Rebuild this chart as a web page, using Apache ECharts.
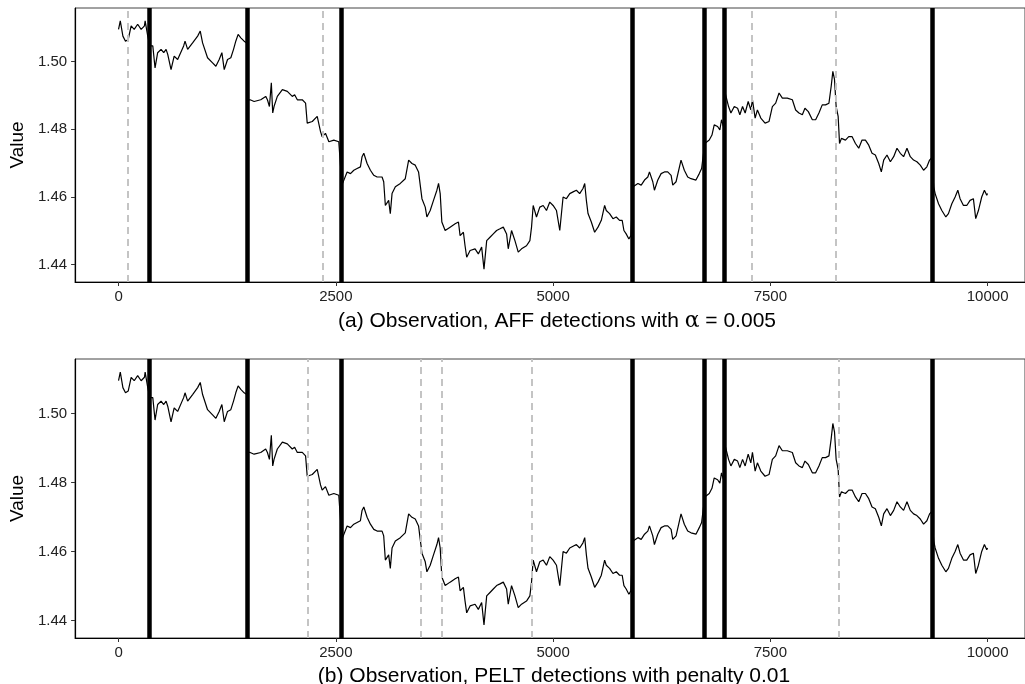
<!DOCTYPE html>
<html><head><meta charset="utf-8">
<script src="https://cdn.jsdelivr.net/npm/echarts@6/dist/echarts.min.js"></script>
<style>html,body{margin:0;padding:0;background:#fff}#c{width:1025px;height:684px}</style>
</head><body><div id="c"></div>
<script>
// Observation index (time) and value
const obsIndex = [0,20,50,80,111,145,180,220,260,298,306,336,
360,394,420,450,489,520,547,566,604,640,680,749,765,795,852,910,940,967,1024,1082,1120,1158,1189,1216,1254,1292,1323,1349,1376,1407,1445,1475,
1490,1514,1560,1636,1693,1713,1736,1758,1774,1789,1827,1885,1942,1999,2026,2057,2114,2152,2171,2229,2286,2305,2324,2343,2381,2420,2477,2534,2555,
2570,2592,2630,2669,2707,2745,2783,2802,2822,2860,2898,2937,2975,3032,3051,3070,3108,3127,3147,3185,3242,3299,3338,3376,3414,3452,3471,3491,3529,3548,3586,3624,3663,3682,3701,3720,3758,3815,3873,3911,3930,3968,3987,4006,4045,4102,4140,4178,4205,4236,4274,4312,4350,4389,4427,4465,4484,4522,4561,4599,4637,4694,4733,4752,4771,4809,4847,4886,4924,4962,5000,5039,5077,5115,5153,5192,5230,5268,5306,5344,5364,5383,5402,5440,5478,5517,5555,5593,5612,5650,5689,5727,5765,5795,5815,5841,5872,5895,
5920,5937,5976,6014,6052,6090,6109,6147,6166,6205,6243,6281,6319,6358,6377,6415,6472,6510,6549,6587,6644,6682,6709,6725,
6745,6767,6797,6828,6854,6893,6919,6938,6960,
6980,6996,7019,7046,7085,7123,7149,7180,7210,7245,7275,7294,7325,7351,7390,7439,7485,7523,7561,7600,7638,7695,7753,7791,7829,7868,7898,7937,7983,8021,8059,8097,8135,8174,8200,8219,8238,8257,8280,8296,8318,8364,8402,8441,8479,8517,8555,8594,8632,8670,8708,8747,8777,8804,8842,8881,8919,8957,8995,9033,9072,9110,9148,9186,9225,9263,9301,9332,9355,
9380,9396,9435,9473,9519,9549,9588,9626,9657,9683,9722,9760,9798,9836,9863,9894,9932,9963,9990,9999];
const obsValue = [1.5095,1.5120,1.5075,1.5060,1.5065,1.5105,1.5095,1.5110,1.5095,1.5105,1.5120,1.5075,
1.5046,1.5046,1.4981,1.5026,1.5036,1.5026,1.5036,1.5021,1.4976,1.5016,1.5006,1.5046,1.5060,1.5036,1.5055,1.5075,1.5090,1.5055,1.5011,1.4996,1.4986,1.5006,1.5026,1.4976,1.5006,1.5011,1.5036,1.5060,1.5080,1.5070,1.5060,1.5055,
1.4887,1.4887,1.4882,1.4887,1.4897,1.4887,1.4867,1.4937,1.4848,1.4867,1.4897,1.4917,1.4912,1.4897,1.4902,1.4887,1.4887,1.4877,1.4818,1.4823,1.4838,1.4843,1.4793,1.4778,1.4788,1.4763,1.4768,1.4763,1.4768,
1.4635,1.4635,1.4674,1.4669,1.4679,1.4684,1.4689,1.4719,1.4729,1.4699,1.4679,1.4664,1.4659,1.4659,1.4645,1.4575,1.4590,1.4551,1.4610,1.4630,1.4640,1.4654,1.4709,1.4699,1.4694,1.4674,1.4679,1.4595,1.4570,1.4541,1.4560,1.4590,1.4620,1.4640,1.4610,1.4526,1.4501,1.4511,1.4521,1.4526,1.4486,1.4496,1.4456,1.4422,1.4442,1.4447,1.4432,1.4452,1.4387,1.4471,1.4481,1.4491,1.4501,1.4506,1.4511,1.4491,1.4447,1.4501,1.4471,1.4437,1.4447,1.4456,1.4471,1.4511,1.4575,1.4541,1.4570,1.4575,1.4560,1.4585,1.4575,1.4560,1.4501,1.4600,1.4595,1.4610,1.4615,1.4620,1.4610,1.4625,1.4640,1.4590,1.4551,1.4526,1.4496,1.4511,1.4531,1.4575,1.4560,1.4551,1.4536,1.4541,1.4531,1.4531,1.4501,1.4491,1.4476,1.4486,
1.4630,1.4630,1.4640,1.4635,1.4650,1.4659,1.4674,1.4645,1.4620,1.4650,1.4669,1.4674,1.4674,1.4664,1.4635,1.4645,1.4709,1.4679,1.4659,1.4654,1.4650,1.4669,1.4684,1.4689,
1.4758,1.4758,1.4768,1.4783,1.4813,1.4808,1.4798,1.4828,1.4808,
1.4907,1.4907,1.4867,1.4848,1.4867,1.4862,1.4843,1.4867,1.4848,1.4882,1.4857,1.4887,1.4833,1.4857,1.4833,1.4818,1.4823,1.4867,1.4877,1.4907,1.4892,1.4892,1.4887,1.4857,1.4848,1.4843,1.4862,1.4852,1.4828,1.4828,1.4848,1.4872,1.4872,1.4877,1.4927,1.4971,1.4947,1.4867,1.4838,1.4758,1.4773,1.4768,1.4778,1.4778,1.4758,1.4744,1.4768,1.4768,1.4753,1.4729,1.4724,1.4699,1.4674,1.4709,1.4724,1.4704,1.4719,1.4744,1.4729,1.4719,1.4744,1.4719,1.4709,1.4704,1.4694,1.4679,1.4689,1.4709,1.4715,
1.4630,1.4610,1.4580,1.4560,1.4541,1.4551,1.4580,1.4600,1.4620,1.4595,1.4575,1.4575,1.4590,1.4595,1.4536,1.4560,1.4600,1.4620,1.4605,1.4610];

// Change points (solid black) and extra detections (dashed grey)
const trueChanges = [348,1484,2562,5906,6736,6969,9366];
const affExtra = [111,2344,7290,8257];
const peltExtra = [2176,3475,3716,4759,8288];

const xTicks = [0,2500,5000,7500,10000];
const yTicks = [1.44,1.46,1.48,1.50];
const panelTitles = ['(a) Observation, AFF detections with {g|α} = 0.005',
                     '(b) Observation, PELT detections with penalty 0.01'];

const obs = obsIndex.map((t,i)=>[t,obsValue[i]]);
const FONT = '"Liberation Sans", Arial, Helvetica, sans-serif';

const grids = [
  {left:74, right:-2, top:8, height:274},
  {left:74, right:-2, top:359, height:279}
];

function xAxisFor(i){
  return {type:'value', gridIndex:i, min:-500, max:10430,
    splitLine:{show:false},
    axisLine:{show:true, onZero:false, lineStyle:{color:'#000', width:1.2}},
    axisTick:{show:true, customValues:xTicks, length:4, lineStyle:{color:'#333'}},
    axisLabel:{customValues:xTicks, margin:7, fontSize:15, color:'#222', fontFamily:FONT,
      formatter:v=>String(v)}};
}
function yAxisFor(i){
  return {type:'value', gridIndex:i, min:1.4349, max:1.5158,
    name:'Value', nameLocation:'middle', nameGap:44, nameRotate:90,
    nameTextStyle:{fontSize:19, color:'#000', fontFamily:FONT},
    splitLine:{show:false},
    axisLine:{show:true, onZero:false, lineStyle:{color:'#000', width:1.2}},
    axisTick:{show:true, customValues:yTicks, length:4, lineStyle:{color:'#333'}},
    axisLabel:{customValues:yTicks, margin:8, fontSize:15, color:'#222', fontFamily:FONT,
      formatter:v=>v.toFixed(2)}};
}
function vlines(i, xs, style, z){
  return {type:'line', xAxisIndex:i, yAxisIndex:i, data:[], z:z, silent:true,
    markLine:{symbol:'none', silent:true, animation:false, label:{show:false},
      lineStyle:style, z:z, data:xs.map(x=>({xAxis:x}))}};
}
function obsSeries(i){
  return {type:'line', xAxisIndex:i, yAxisIndex:i, data:obs, showSymbol:false,
    animation:false, z:3, lineStyle:{color:'#000', width:1.2}};
}

const option = {
  animation:false,
  backgroundColor:'#fff',
  grid: grids.map(g=>Object.assign({show:true, borderColor:'#444', borderWidth:1, backgroundColor:'transparent'}, g)),
  xAxis:[xAxisFor(0), xAxisFor(1)],
  yAxis:[yAxisFor(0), yAxisFor(1)],
  title:[
    {text:panelTitles[0], left:552, top:305, textAlign:'center',
     textStyle:{fontSize:21, fontWeight:'normal', color:'#000', fontFamily:FONT,
       rich:{g:{fontSize:22, fontFamily:'"DejaVu Serif", serif', color:'#000'}}}},
    {text:panelTitles[1], left:549, top:661, textAlign:'center',
     textStyle:{fontSize:21, fontWeight:'normal', color:'#000', fontFamily:FONT}}
  ],
  series:[
    obsSeries(0),
    vlines(0, affExtra, {color:'#c4c4c4', width:2, type:[7,5]}, 4),
    vlines(0, trueChanges, {color:'#000', width:4.5, type:'solid'}, 5),
    obsSeries(1),
    vlines(1, peltExtra, {color:'#c4c4c4', width:2, type:[7,5]}, 4),
    vlines(1, trueChanges, {color:'#000', width:4.5, type:'solid'}, 5)
  ]
};
const chart = echarts.init(document.getElementById('c'), null, {renderer:'canvas'});
chart.setOption(option);
</script></body></html>
